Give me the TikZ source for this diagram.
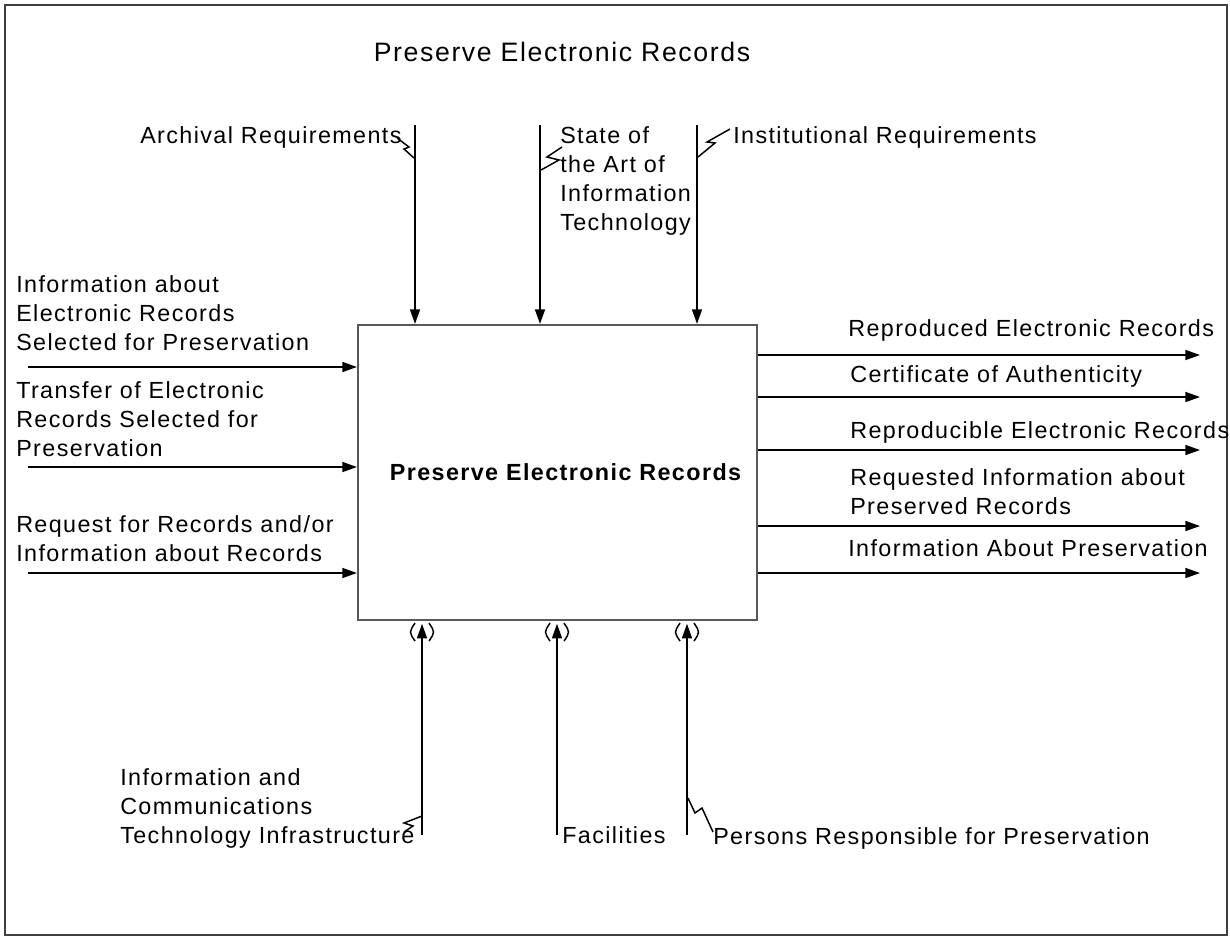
\documentclass[tikz,border=0pt]{standalone}
\usepackage{fontspec}
\setmainfont{Liberation Sans}[LetterSpace=6]
\usetikzlibrary{arrows.meta, positioning, calc}
\tikzset{
  lbl/.style     = {anchor=north west, inner sep=0pt, align=left,
                    font=\fontsize{17.5}{21.75}\selectfont},
  funcbox/.style = {rectangle, draw=black!65, line width=1.6pt,
                    minimum width=299.25pt, minimum height=221.25pt,
                    font=\fontsize{17.5}{21.75}\selectfont\bfseries},
  arr/.style     = {-{Triangle[length=11pt,width=7.5pt]}, line width=1.2pt},
  squig/.style   = {line width=1.1pt},
  tunnel/.style  = {line width=1.1pt},
}
% round brackets round a mechanism arrow head
\newcommand\tunnelat[1]{%
  \draw[tunnel] ($(#1)+(-7,-9)$) .. controls ($(#1)+(-13,0)$) .. ($(#1)+(-7,9)$);
  \draw[tunnel] ($(#1)+(7,-9)$) .. controls ($(#1)+(13,0)$) .. ($(#1)+(7,9)$);}

\begin{document}
\begin{tikzpicture}[x=0.75pt, y=-0.75pt]
  \useasboundingbox (0,0) rectangle (1230,940);
  \draw[black!75, line width=1.5pt] (5,5) rectangle (1227,935);

  \node[font=\fontsize{20}{24}\selectfont, anchor=north, inner sep=0pt]
    (title) at (562,42) {Preserve Electronic Records};

  % the activity
  \node[funcbox] (act) at (557.5,472.5) {\hspace*{12pt}Preserve Electronic Records};

  % inputs
  \node[lbl] (in1) at (16,275) {Information about\\Electronic Records\\Selected for Preservation};
  \node[lbl] (in2) at (16,381) {Transfer of Electronic\\Records Selected for\\Preservation};
  \node[lbl] (in3) at (16,515) {Request for Records and/or\\Information about Records};
  \coordinate (i1) at (28,367);
  \coordinate (i2) at (28,467);
  \coordinate (i3) at (28,573);
  \foreach \i in {i1,i2,i3}
    \draw[arr] (\i) -- (\i -| act.west);

  % outputs
  \node[lbl] (out1) at (848,319) {Reproduced Electronic Records};
  \node[lbl] (out2) at (850,365) {Certificate of Authenticity};
  \node[lbl] (out3) at (850,421) {Reproducible Electronic Records};
  \node[lbl] (out4) at (850,468) {Requested Information about\\Preserved Records};
  \node[lbl] (out5) at (848,539) {Information About Preservation};
  \coordinate (o1) at (1200,355);
  \coordinate (o2) at (1200,397);
  \coordinate (o3) at (1200,450);
  \coordinate (o4) at (1200,526);
  \coordinate (o5) at (1200,573);
  \foreach \o in {o1,o2,o3,o4,o5}
    \draw[arr] (\o -| act.east) -- (\o);

  % controls
  \node[lbl] (ctl1) at (140,126) {Archival Requirements};
  \node[lbl] (ctl2) at (560,126) {State of\\the Art of\\Information\\Technology};
  \node[lbl] (ctl3) at (733,126) {Institutional Requirements};
  \coordinate (c1) at (415,125);
  \coordinate (c2) at (540,125);
  \coordinate (c3) at (697,125);
  \foreach \c in {c1,c2,c3}
    \draw[arr] (\c) -- (\c |- act.north);
  \draw[squig] (414,158) -- ++(-10,-9) -- ++(5,-2) -- ++(-12,-9);
  \draw[squig] (541,170) -- ++(18,-10) -- ++(-12,-3) -- ++(15,-10);
  \draw[squig] (698,157) -- ++(17,-14) -- ++(-8,-1) -- ++(23,-13);

  % mechanisms
  \node[lbl] (mch1) at (120,768) {Information and\\Communications\\Technology Infrastructure};
  \node[lbl] (mch2) at (562,826) {Facilities};
  \node[lbl] (mch3) at (713,827) {Persons Responsible for Preservation};
  \coordinate (m1) at (422,835);
  \coordinate (m2) at (557,835);
  \coordinate (m3) at (687,835);
  \foreach \m in {m1,m2,m3}{
    \draw[arr, shorten >=2pt] (\m) -- (\m |- act.south);
    \tunnelat{$(\m |- act.south)+(0,11)$}
  }
  \draw[squig] (422,816) -- ++(-18,7) -- ++(9,3) -- ++(-9,6);
  \draw[squig] (688,798) -- ++(7,15) -- ++(7,-5) -- ++(11,24);
\end{tikzpicture}
\end{document}
